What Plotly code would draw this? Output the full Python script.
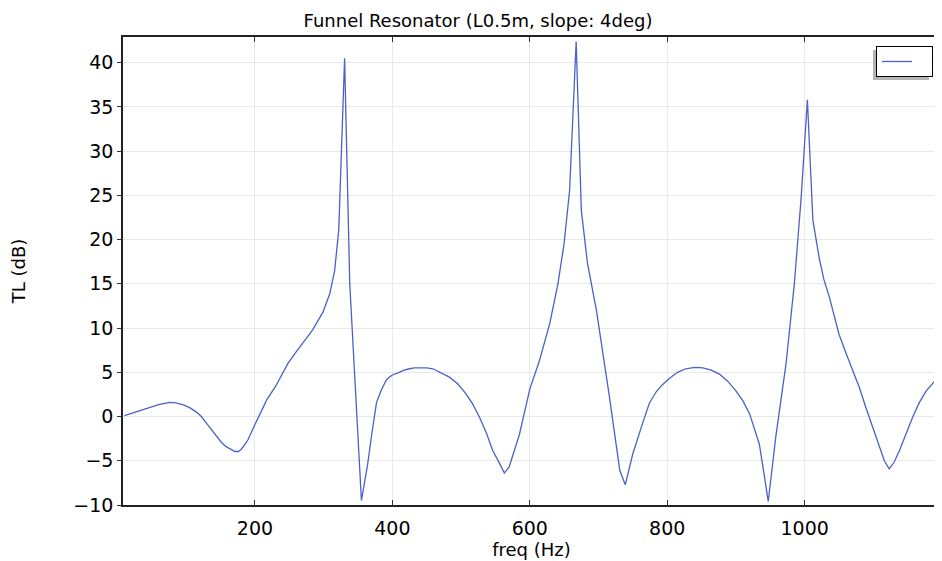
import plotly.graph_objects as go

# Data
freq_hz = [10, 20, 30, 40, 50, 60, 76, 85, 95, 105, 115, 122, 130, 137, 144, 151, 158,
           164, 171, 176, 180, 185, 190, 197, 207, 217, 230, 236, 248, 260, 272, 284,
           299, 309, 316, 322, 330.5, 338, 355, 364, 370, 377, 384, 391, 395, 400, 410,
           417, 425, 432, 440, 450, 459, 470, 483, 495, 507, 517, 527, 537, 546, 556,
           563, 570, 585, 600, 614, 629, 641, 650, 658, 667.5, 675, 684, 697, 716, 721,
           731, 739, 750, 764, 774, 784, 793, 803, 815, 827, 840, 852, 864, 876, 888,
           900, 910, 920, 927, 934, 941, 947, 958, 963, 973, 985, 995, 1004, 1012,
           1021, 1028, 1036, 1043, 1050, 1060, 1070, 1080, 1089, 1099, 1109, 1116,
           1123, 1130, 1138, 1147, 1157, 1167, 1177, 1187, 1196]
tl_db = [0.1, 0.35, 0.6, 0.85, 1.15, 1.35, 1.6, 1.55, 1.35, 1.0, 0.5, 0.0, -0.8, -1.5,
         -2.3, -2.9, -3.4, -3.7, -3.95, -3.95, -3.7, -3.2, -2.6, -1.4, 0.3, 1.85, 3.4,
         4.3, 6.0, 7.3, 8.5, 9.8, 11.8, 13.9, 16.5, 21.1, 40.5, 15.0, -9.5, -5.4, -2.0,
         1.6, 3.0, 4.1, 4.4, 4.7, 5.0, 5.25, 5.4, 5.5, 5.5, 5.5, 5.4, 5.0, 4.45, 3.7,
         2.6, 1.4, -0.1, -1.9, -3.85, -5.3, -6.4, -5.7, -2.0, 3.1, 6.3, 10.5, 15.0,
         19.6, 25.6, 42.4, 23.3, 17.3, 12.0, 2.2, -0.45, -6.1, -7.7, -4.2, -0.8, 1.5,
         2.8, 3.6, 4.3, 5.0, 5.4, 5.55, 5.5, 5.25, 4.8, 4.0, 2.9, 1.8, 0.3, -1.3,
         -3.1, -6.5, -9.6, -2.3, 0.3, 6.0, 15.0, 24.8, 35.8, 22.2, 18.0, 15.5, 13.5,
         11.5, 9.3, 7.2, 5.2, 3.2, 1.05, -1.2, -3.5, -5.0, -5.9, -5.2, -3.85, -2.0,
         -0.1, 1.6, 2.9, 3.8, 4.6]

x_ticks = [200, 400, 600, 800, 1000]
y_ticks = [-10, -5, 0, 5, 10, 15, 20, 25, 30, 35, 40]

title_text = "Funnel Resonator (L0.5m, slope: 4deg)"
x_title = "freq (Hz)"
y_title = "TL (dB)"
series_name = "\u00a0\u00a0\u00a0"  # legend entry shows only the line sample

# The page body has an 8px margin, so the figure is sized to fill the rest.
OFF = 8
W, H = 942 - OFF, 561 - OFF
ML, MR, MT, MB = 123 - OFF, 2, 37 - OFF, 56
PW, PH = W - ML - MR, H - MT - MB

def px_x(p):
    return (p - OFF - ML) / PW

def px_y(p):
    return (H - MB - (p - OFF)) / PH

FONT = "DejaVu Sans"
fig = go.Figure()
fig.add_trace(go.Scatter(x=freq_hz, y=tl_db, mode="lines", name=series_name,
                         line=dict(color="#4d60c8", width=1.3), showlegend=True))

grid = "#e9e9e9"
fig.update_layout(
    width=W, height=H,
    margin=dict(l=ML, r=MR, t=MT, b=MB, autoexpand=False),
    paper_bgcolor="white", plot_bgcolor="white",
    font=dict(family=FONT, size=19, color="black"),
    title=dict(text=title_text, x=(478 - OFF) / W, xref="container", xanchor="center",
               y=1 - (21 - OFF) / H, yref="container", yanchor="middle",
               font=dict(family=FONT, size=18, color="black")),
    showlegend=True,
    legend=dict(x=px_x(933), y=px_y(46), xanchor="right", yanchor="top",
                bgcolor="white", bordercolor="black", borderwidth=1,
                itemwidth=30, font=dict(size=10)),
    xaxis=dict(range=[8, 1197], tickvals=x_ticks, showgrid=True, gridcolor=grid,
               gridwidth=1, zeroline=False, showline=True, linecolor="#222",
               linewidth=1.5, mirror="ticks", ticks="inside", ticklen=5,
               tickcolor="#333", ticklabelstandoff=5,
               title=dict(text=x_title, standoff=2, font=dict(size=18))),
    yaxis=dict(range=[-10, 42.9], tickvals=y_ticks, showgrid=True, gridcolor=grid,
               gridwidth=1, zeroline=False, showline=True, linecolor="#222",
               linewidth=1.5, mirror=True, ticks="outside", ticklen=4,
               tickcolor="#333",
               title=dict(text=y_title, standoff=50, font=dict(size=18))),
)

# soft drop shadow behind the legend box (offset left and down)
fig.add_shape(type="rect", xref="paper", yref="paper",
              x0=px_x(873), x1=px_x(929), y0=px_y(80), y1=px_y(50),
              fillcolor="#b4b4b4", line=dict(width=0), layer="above")

fig.write_html("out.html")
